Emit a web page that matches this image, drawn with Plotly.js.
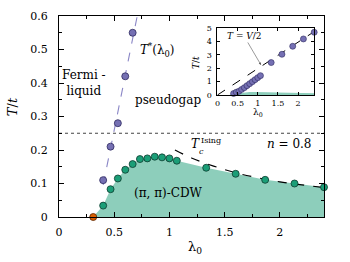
<!DOCTYPE html>
<html>
<head>
<meta charset="utf-8">
<script src="https://cdn.plot.ly/plotly-3.0.1.min.js"></script>
<style>html,body{margin:0;padding:0;background:#fff;}#chart{width:350px;height:262px;}</style>
</head>
<body>
<div id="chart"></div>
<script>
// ---- data ----
const lamCDW = [0.4, 0.467, 0.533, 0.6, 0.667, 0.733, 0.8, 0.867, 0.933, 1.0, 1.067, 1.333, 1.6, 1.867, 2.133, 2.4];
const tcCDW  = [0.034, 0.083, 0.115, 0.141, 0.158, 0.173, 0.175, 0.18, 0.178, 0.175, 0.168, 0.147, 0.129, 0.111, 0.10, 0.089];
const lamQCP = [0.31];
const tcQCP  = [0];
const lamStar = [0.4, 0.467, 0.533, 0.6, 0.667];
const tStar   = [0.11, 0.21, 0.28, 0.42, 0.55];
const lamIsing = [1.05, 1.2, 1.4, 1.6, 1.8, 2.0, 2.2, 2.4];
const tIsing   = [0.2, 0.176, 0.152, 0.132, 0.117, 0.105, 0.096, 0.088];
const tFermiPseudo = 0.25;
const lamInset = [0.4, 0.467, 0.533, 0.6, 0.667, 0.733, 0.8, 0.867, 0.933, 1.0, 1.067, 1.333, 1.6, 1.867, 2.133, 2.4];
const tInset   = [0.11, 0.21, 0.28, 0.42, 0.55, 0.7, 0.85, 1.0, 1.15, 1.3, 1.45, 2.43, 3.05, 3.65, 4.2, 4.7];
const lamHalfV = [0, 2.4];
const tHalfV   = [0, 4.75];

// linear fit of T*(lambda0)
function fit(x, y) {
  const n = x.length;
  const mx = x.reduce((a, b) => a + b, 0) / n, my = y.reduce((a, b) => a + b, 0) / n;
  let sxy = 0, sxx = 0;
  for (let i = 0; i < n; i++) { sxy += (x[i] - mx) * (y[i] - my); sxx += (x[i] - mx) ** 2; }
  const k = sxy / sxx; return { k: k, b: my - k * mx };
}
const f = fit(lamStar, tStar);
const yTop = 0.6;
const fitX = [lamStar[0], (yTop - f.b) / f.k];
const fitY = fitX.map(v => f.k * v + f.b);

const FONT = 'DejaVu Serif';
const GREEN = '#1b9e77', FILL = 'rgba(27,158,119,0.5)', PURPLE = '#7570b3', ORANGE = '#d95f02';

const traces = [
  {x: lamQCP.concat(lamCDW), y: tcQCP.concat(tcCDW), mode: 'none', fill: 'tozeroy', fillcolor: FILL, hoverinfo: 'skip', xaxis: 'x', yaxis: 'y'},
  {x: [0, 2.4], y: [tFermiPseudo, tFermiPseudo], mode: 'lines', line: {color: '#444', width: 1.2, dash: 'dot'}, xaxis: 'x', yaxis: 'y'},
  {x: fitX, y: fitY, mode: 'lines', line: {color: '#8a86c6', width: 1.1, dash: 'dash'}, xaxis: 'x', yaxis: 'y'},
  {x: lamIsing, y: tIsing, mode: 'lines', line: {color: '#000', width: 1.2, dash: 'dash', shape: 'spline'}, xaxis: 'x', yaxis: 'y'},
  {x: lamCDW, y: tcCDW, mode: 'markers', marker: {color: GREEN, size: 7, line: {color: '#0d3b2e', width: 0.8}}, cliponaxis: false, xaxis: 'x', yaxis: 'y'},
  {x: lamStar, y: tStar, mode: 'markers', marker: {color: PURPLE, size: 7, line: {color: '#2e2a60', width: 0.8}}, xaxis: 'x', yaxis: 'y'},
  {x: lamQCP, y: tcQCP, mode: 'markers', marker: {color: ORANGE, size: 7, line: {color: '#5a2500', width: 0.8}}, cliponaxis: false, xaxis: 'x', yaxis: 'y'},
  // inset
  {x: lamQCP.concat(lamCDW), y: tcQCP.concat(tcCDW), mode: 'lines', fill: 'tozeroy', fillcolor: FILL, line: {color: '#8dcebb', width: 1.2}, xaxis: 'x2', yaxis: 'y2'},
  {x: lamHalfV, y: tHalfV, mode: 'lines', line: {color: '#000', width: 1, dash: 'dash'}, xaxis: 'x2', yaxis: 'y2'},
  {x: lamInset, y: tInset, mode: 'markers', marker: {color: PURPLE, size: 6, line: {color: '#2e2a60', width: 0.6}}, cliponaxis: false, xaxis: 'x2', yaxis: 'y2'}
];

const axCommon = {showline: true, linecolor: '#000', linewidth: 1, mirror: 'allticks', ticks: 'inside', showgrid: false, zeroline: false, tickcolor: '#000', automargin: false};

const layout = {
  width: 350, height: 262,
  margin: {l: 59, r: 26, t: 16, b: 45},
  paper_bgcolor: '#fff', plot_bgcolor: '#fff',
  showlegend: false,
  font: {family: FONT, size: 12, color: '#000'},
  xaxis: Object.assign({}, axCommon, {range: [0, 2.4], tickvals: [0, 0.5, 1, 1.5, 2], ticktext: ['0', '0.5', '1', '1.5', '2'], ticklen: 5, ticklabelstandoff: 5,
    tickfont: {family: FONT, size: 11},
    minor: {tickvals: [0.25, 0.75, 1.25, 1.75, 2.25], ticks: 'inside', ticklen: 3, tickcolor: '#000'}, domain: [0, 1]}),
  yaxis: Object.assign({}, axCommon, {range: [0, 0.6], tickvals: [0, 0.1, 0.2, 0.3, 0.4, 0.5, 0.6], ticktext: ['0', '0.1', '0.2', '0.3', '0.4', '0.5', '0.6'], ticklen: 5, ticklabelstandoff: 8,
    tickfont: {family: FONT, size: 11},
    minor: {tickvals: [0.05, 0.15, 0.25, 0.35, 0.45, 0.55], ticks: 'inside', ticklen: 3, tickcolor: '#000'}, domain: [0, 1]}),
  xaxis2: Object.assign({}, axCommon, {anchor: 'y2', domain: [0.598, 0.963], range: [0, 2.4], tickvals: [0, 0.5, 1, 1.5, 2], ticktext: ['0', '0.5', '1', '1.5', '2'], ticklen: 3,
    tickfont: {family: FONT, size: 8}, ticklabelstandoff: 0}),
  yaxis2: Object.assign({}, axCommon, {anchor: 'x2', domain: [0.607, 0.939], range: [0, 5], tickvals: [0, 1, 2, 3, 4, 5], ticktext: ['0', '1', '2', '3', '4', '5'], ticklen: 3,
    tickfont: {family: FONT, size: 8}, ticklabelstandoff: 3}),
  annotations: [
    // axis titles
    {xref: 'paper', yref: 'paper', x: 0.513, y: -0.154, xanchor: 'center', yanchor: 'middle', text: 'λ<sub>0</sub>', showarrow: false, font: {family: FONT, size: 13}},
    {xref: 'paper', yref: 'paper', x: -0.177, y: 0.547, xanchor: 'center', yanchor: 'middle', text: '<i>T</i>/<i>t</i>', textangle: -90, showarrow: false, font: {family: FONT, size: 13}},
    {xref: 'paper', yref: 'paper', x: 0.751, y: 0.518, xanchor: 'center', yanchor: 'middle', text: 'λ<sub>0</sub>', showarrow: false, font: {family: FONT, size: 9}},
    {xref: 'paper', yref: 'paper', x: 0.517, y: 0.766, xanchor: 'center', yanchor: 'middle', text: '<i>T</i>/<i>t</i>', textangle: -90, showarrow: false, font: {family: FONT, size: 9}},
    // labels
    {xref: 'x', yref: 'y', x: 0.222, y: 0.399, xanchor: 'center', yanchor: 'middle', text: 'Fermi -<br>liquid', showarrow: false, font: {family: FONT, size: 12}, align: 'center'},
    {xref: 'x', yref: 'y', x: 0.89, y: 0.4985, xanchor: 'center', yanchor: 'middle', text: '<i>T</i><sup>*</sup>(λ<sub>0</sub>)', showarrow: false, font: {family: FONT, size: 12}},
    {xref: 'x', yref: 'y', x: 0.988, y: 0.349, xanchor: 'center', yanchor: 'middle', text: 'pseudogap', showarrow: false, font: {family: FONT, size: 12}},
    {xref: 'x', yref: 'y', x: 1.238, y: 0.218, xanchor: 'center', yanchor: 'middle', text: '<i>T</i>', showarrow: false, font: {family: FONT, size: 12}},
    {xref: 'x', yref: 'y', x: 1.375, y: 0.229, xanchor: 'center', yanchor: 'middle', text: 'Ising', showarrow: false, font: {family: FONT, size: 8}},
    {xref: 'x', yref: 'y', x: 1.29, y: 0.196, xanchor: 'center', yanchor: 'middle', text: '<i>c</i>', showarrow: false, font: {family: FONT, size: 8}},
    {xref: 'x', yref: 'y', x: 2.085, y: 0.219, xanchor: 'center', yanchor: 'middle', text: '<i>n</i> = 0.8', showarrow: false, font: {family: FONT, size: 12}},
    {xref: 'x', yref: 'y', x: 0.988, y: 0.0716, xanchor: 'center', yanchor: 'middle', text: '(π, π)-CDW', showarrow: false, font: {family: FONT, size: 12}},
    {xref: 'x2', yref: 'y2', x: 1.08, y: 2.25, text: '<i>T</i> = <i>V</i>/2', showarrow: true, axref: 'pixel', ayref: 'pixel', ax: -17, ay: -29,
      arrowhead: 2, arrowsize: 0.8, arrowwidth: 0.6, arrowcolor: '#555', font: {family: FONT, size: 9}, standoff: 0, startstandoff: 0}
  ]
};

Plotly.newPlot('chart', traces, layout, {staticPlot: true, displayModeBar: false});
</script>
</body>
</html>
